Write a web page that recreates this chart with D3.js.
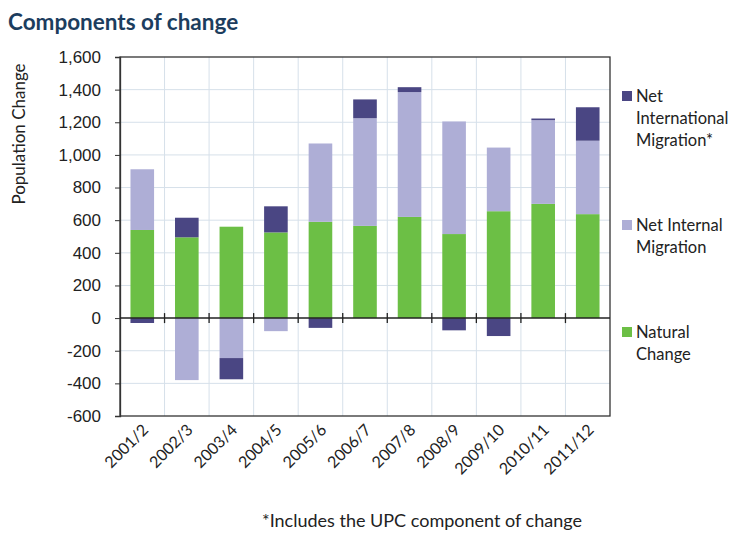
<!DOCTYPE html>
<html>
<head>
<meta charset="utf-8">
<script src="https://cdn.jsdelivr.net/npm/d3@7"></script>
<style>
  body { margin: 0; background: #fff; }
  svg { font-family: Lato, "Open Sans", sans-serif; }
</style>
</head>
<body>
<svg id="chart" width="735" height="533"></svg>
<script>
// values
var years = ["2001/2", "2002/3", "2003/4", "2004/5", "2005/6", "2006/7",
             "2007/8", "2008/9", "2009/10", "2010/11", "2011/12"];
var naturalChange = [540, 495, 560, 525, 590, 565, 620, 515, 655, 700, 637];
var internalMigration = [372, -380, -245, -80, 480, 660, 765, 690, 390, 513, 450];
var internationalMigration = [-30, 120, -130, 160, -60, 115, 30, -75, -110, 10, 205];
var yTicks = [-600, -400, -200, 0, 200, 400, 600, 800, 1000, 1200, 1400, 1600];

var keys = ["natural", "internal", "international"];
var colors = { natural: "#6cbf45", internal: "#aeaed6", international: "#4a4683" };

var rows = years.map(function (y, i) {
    return { year: y, natural: naturalChange[i], internal: internalMigration[i], international: internationalMigration[i] };
});

var svg = d3.select("#chart"),
    plotLeft = 120, plotRight = 610, plotTop = 57, plotBottom = 416;

var x = d3.scaleBand().domain(years).range([plotLeft, plotRight]).paddingInner(0.47).paddingOuter(0.235);
var y = d3.scaleLinear().domain([-600, 1600]).range([plotBottom, plotTop]);

// title
svg.append("text")
    .attr("x", 8).attr("y", 30)
    .attr("fill", "#1c3d5e")
    .style("font-size", "22.5px").style("font-weight", "bold")
    .text("Components of change");

// grid
var step = x.step();
svg.append("g").selectAll("line")
    .data(yTicks.filter(function (d) { return d !== 0 && d !== -600 && d !== 1600; }))
    .enter().append("line")
    .attr("x1", plotLeft).attr("x2", plotRight)
    .attr("y1", function (d) { return y(d); }).attr("y2", function (d) { return y(d); })
    .attr("stroke", "#d6e0ea").attr("stroke-width", 1);
svg.append("g").selectAll("line")
    .data(d3.range(1, years.length))
    .enter().append("line")
    .attr("x1", function (i) { return plotLeft + step * i; })
    .attr("x2", function (i) { return plotLeft + step * i; })
    .attr("y1", plotTop).attr("y2", plotBottom)
    .attr("stroke", "#d6e0ea").attr("stroke-width", 1);

// bars
var stack = d3.stack().keys(keys).offset(d3.stackOffsetDiverging);
var series = stack(rows);

svg.append("g").selectAll("g")
    .data(series)
    .enter().append("g")
    .attr("fill", function (d) { return colors[d.key]; })
    .selectAll("rect")
    .data(function (d) { return d; })
    .enter().append("rect")
    .attr("x", function (d) { return x(d.data.year); })
    .attr("width", x.bandwidth())
    .attr("y", function (d) { return y(Math.max(d[0], d[1])); })
    .attr("height", function (d) { return Math.abs(y(d[0]) - y(d[1])); });

// frame
svg.append("rect")
    .attr("x", plotLeft).attr("y", plotTop)
    .attr("width", plotRight - plotLeft).attr("height", plotBottom - plotTop)
    .attr("fill", "none").attr("stroke", "#333").attr("stroke-width", 1.3);

// y axis (plain hyphen for negatives, like the original)
var fmt = d3.format(",");
var yAxis = svg.append("g")
    .attr("transform", "translate(" + plotLeft + ",0)")
    .call(d3.axisLeft(y).tickValues(yTicks)
        .tickFormat(function (d) { return fmt(d).replace("\u2212", "-"); })
        .tickSize(5).tickPadding(14));
yAxis.select(".domain").attr("stroke", "#333").attr("stroke-width", 1.3);
yAxis.selectAll(".tick line").attr("stroke", "#333");
yAxis.selectAll("text").style("font-size", "17px").attr("fill", "#222");

// zero line with category ticks
svg.append("line")
    .attr("x1", plotLeft).attr("x2", plotRight)
    .attr("y1", y(0)).attr("y2", y(0))
    .attr("stroke", "#222").attr("stroke-width", 1.5);
svg.append("g").selectAll("line")
    .data(d3.range(1, years.length))
    .enter().append("line")
    .attr("x1", function (i) { return plotLeft + step * i; })
    .attr("x2", function (i) { return plotLeft + step * i; })
    .attr("y1", y(0) - 5).attr("y2", y(0) + 5)
    .attr("stroke", "#222").attr("stroke-width", 1.3);

// x labels
svg.append("g").selectAll("text")
    .data(years)
    .enter().append("text")
    .attr("transform", function (d) {
        return "translate(" + (x(d) + x.bandwidth() / 2 + 7) + "," + (plotBottom + 15) + ") rotate(-45)";
    })
    .attr("text-anchor", "end")
    .attr("fill", "#222")
    .style("font-size", "16px")
    .text(function (d) { return d; });

// y title
svg.append("text")
    .attr("transform", "translate(25,134) rotate(-90)")
    .attr("text-anchor", "middle")
    .attr("fill", "#222")
    .style("font-size", "17px")
    .text("Population Change");

// legend
var legendItems = [
    { key: "international", lines: ["Net", "International", "Migration*"], y: 96 },
    { key: "internal", lines: ["Net Internal", "Migration"], y: 225 },
    { key: "natural", lines: ["Natural", "Change"], y: 332 }
];
var lg = svg.append("g").selectAll("g")
    .data(legendItems)
    .enter().append("g")
    .attr("transform", function (d) { return "translate(622," + d.y + ")"; });
lg.append("rect")
    .attr("x", 0).attr("y", -5).attr("width", 10).attr("height", 10)
    .attr("fill", function (d) { return colors[d.key]; });
lg.append("text")
    .attr("fill", "#222")
    .style("font-size", "16.5px")
    .selectAll("tspan")
    .data(function (d) { return d.lines; })
    .enter().append("tspan")
    .attr("x", 14)
    .attr("y", function (d, i) { return 6 + i * 22; })
    .text(function (d) { return d; });

// footnote
svg.append("text")
    .attr("x", 262).attr("y", 527)
    .attr("fill", "#222")
    .style("font-size", "18px")
    .text("*Includes the UPC component of change");
</script>
</body>
</html>
